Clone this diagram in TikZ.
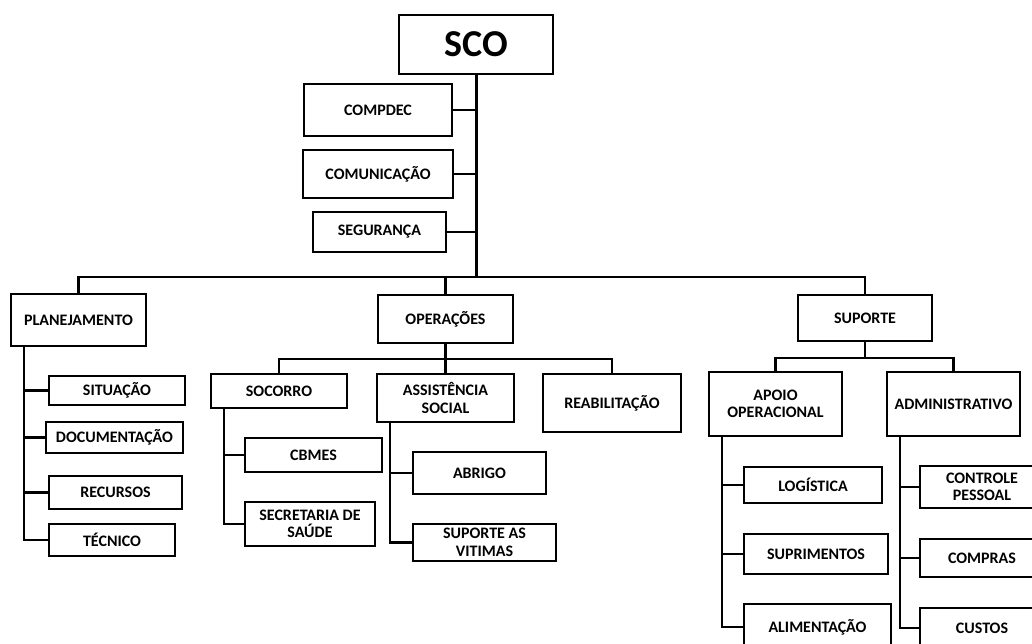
\documentclass[tikz,border=0pt]{standalone}
\usepackage{fontspec}
\setsansfont{Carlito}
\usepackage{tikz}
\usetikzlibrary{positioning}

\tikzset{
  box/.style={draw, line width=2.3pt, inner sep=0pt, align=center,
    font=\sffamily\bfseries\fontsize{16}{17.5}\selectfont},
  boxsize/.style 2 args={minimum width=#1pt, minimum height=#2pt},
  link/.style={line width=2.3pt},
  trunk/.style={line width=3pt}
}

\begin{document}
\begin{tikzpicture}[x=1pt,y=-1pt]
\useasboundingbox (0,0) rectangle (1032,644);
\clip (0,0) rectangle (1032,644);
% top
\node[box,boxsize={154}{59},font=\sffamily\bfseries\fontsize{38}{40}\selectfont] (sco) at (476,44.5) {SCO};
\node[box,boxsize={148}{52}] (compdec) at (378,110) {COMPDEC};
\node[box,boxsize={150}{48}] (comunic) at (378,174) {COMUNICAÇÃO};
\node[box,boxsize={133}{40}] (seg) at (379.5,232) {SEGURANÇA};
% sections
\node[box,boxsize={135}{52}] (plan) at (78.5,320) {PLANEJAMENTO};
\node[box,boxsize={135}{48}] (oper) at (445.5,319) {OPERAÇÕES};
\node[box,boxsize={134}{46}] (sup) at (865,318) {SUPORTE};
% planejamento
\node[box,boxsize={136}{29}] (sit) at (117,390.5) {SITUAÇÃO};
\node[box,boxsize={137}{31}] (doc) at (114.5,437.5) {DOCUMENTAÇÃO};
\node[box,boxsize={133}{33}] (rec) at (115.5,492.5) {RECURSOS};
\node[box,boxsize={126}{32}] (tec) at (112,540) {TÉCNICO};
% operacoes
\node[box,boxsize={136}{34}] (soc) at (279,391) {SOCORRO};
\node[box,boxsize={137}{48}] (assist) at (445.5,398) {ASSISTÊNCIA\\SOCIAL};
\node[box,boxsize={138}{58}] (reab) at (612,403) {REABILITAÇÃO};
\node[box,boxsize={137}{34}] (cbmes) at (313.5,455) {CBMES};
\node[box,boxsize={130}{44}] (secr) at (310,524) {SECRETARIA DE\\SAÚDE};
\node[box,boxsize={133}{42}] (abrigo) at (479.5,473) {ABRIGO};
\node[box,boxsize={143}{37}] (vitimas) at (484.5,542.5) {SUPORTE AS\\VITIMAS};
% suporte
\node[box,boxsize={133}{64}] (apoio) at (775.5,404) {APOIO\\OPERACIONAL};
\node[box,boxsize={133}{64}] (adm) at (953.5,404) {ADMINISTRATIVO};
\node[box,boxsize={138}{36}] (log) at (813,485) {LOGÍSTICA};
\node[box,boxsize={144}{40}] (supr) at (816,554) {SUPRIMENTOS};
\node[box,boxsize={147}{46}] (alim) at (817.5,627) {ALIMENTAÇÃO};
\node[box,boxsize={124}{42}] (ctrl) at (982,487) {CONTROLE\\PESSOAL};
\node[box,boxsize={124}{38}] (compras) at (982,558) {COMPRAS};
\node[box,boxsize={124}{40}] (custos) at (982,628) {CUSTOS};

% connectors
\coordinate (top) at (476,277);
\draw[trunk] (sco.south) -- (top);
\draw[link] (compdec.east) -- (compdec.east -| top);
\draw[link] (comunic.east) -- (comunic.east -| top);
\draw[link] (seg.east) -- (seg.east -| top);
\draw[link] (plan.north) |- (top) -| (sup.north);
\draw[link] (oper.north) -- (oper.north |- top);

\coordinate (opbar) at (445.5,359);
\draw[link] (soc.north) |- (opbar) -| (reab.north);
\draw[link] (oper.south) -- (assist.north);
\coordinate (supbar) at (865,358);
\draw[link] (apoio.north) |- (supbar) -| (adm.north);
\draw[link] (sup.south) -- (supbar);

\coordinate (pl) at ([xshift=14pt]plan.south west);
\draw[link] (sit.west) -- (sit.west -| pl);
\draw[link] (doc.west) -- (doc.west -| pl);
\draw[link] (rec.west) -- (rec.west -| pl);
\draw[link] (pl) |- (tec.west);

\coordinate (so) at ([xshift=14pt]soc.south west);
\draw[link] (cbmes.west) -- (cbmes.west -| so);
\draw[link] (so) |- (secr.west);

\coordinate (as) at ([xshift=14pt]assist.south west);
\draw[link] (abrigo.west) -- (abrigo.west -| as);
\draw[link] (as) |- (vitimas.west);

\coordinate (ap) at ([xshift=14pt]apoio.south west);
\draw[link] (log.west) -- (log.west -| ap);
\draw[link] (supr.west) -- (supr.west -| ap);
\draw[link] (ap) |- (alim.west);

\coordinate (ad) at ([xshift=14pt]adm.south west);
\draw[link] (ctrl.west) -- (ctrl.west -| ad);
\draw[link] (compras.west) -- (compras.west -| ad);
\draw[link] (ad) |- (custos.west);
\end{tikzpicture}
\end{document}
